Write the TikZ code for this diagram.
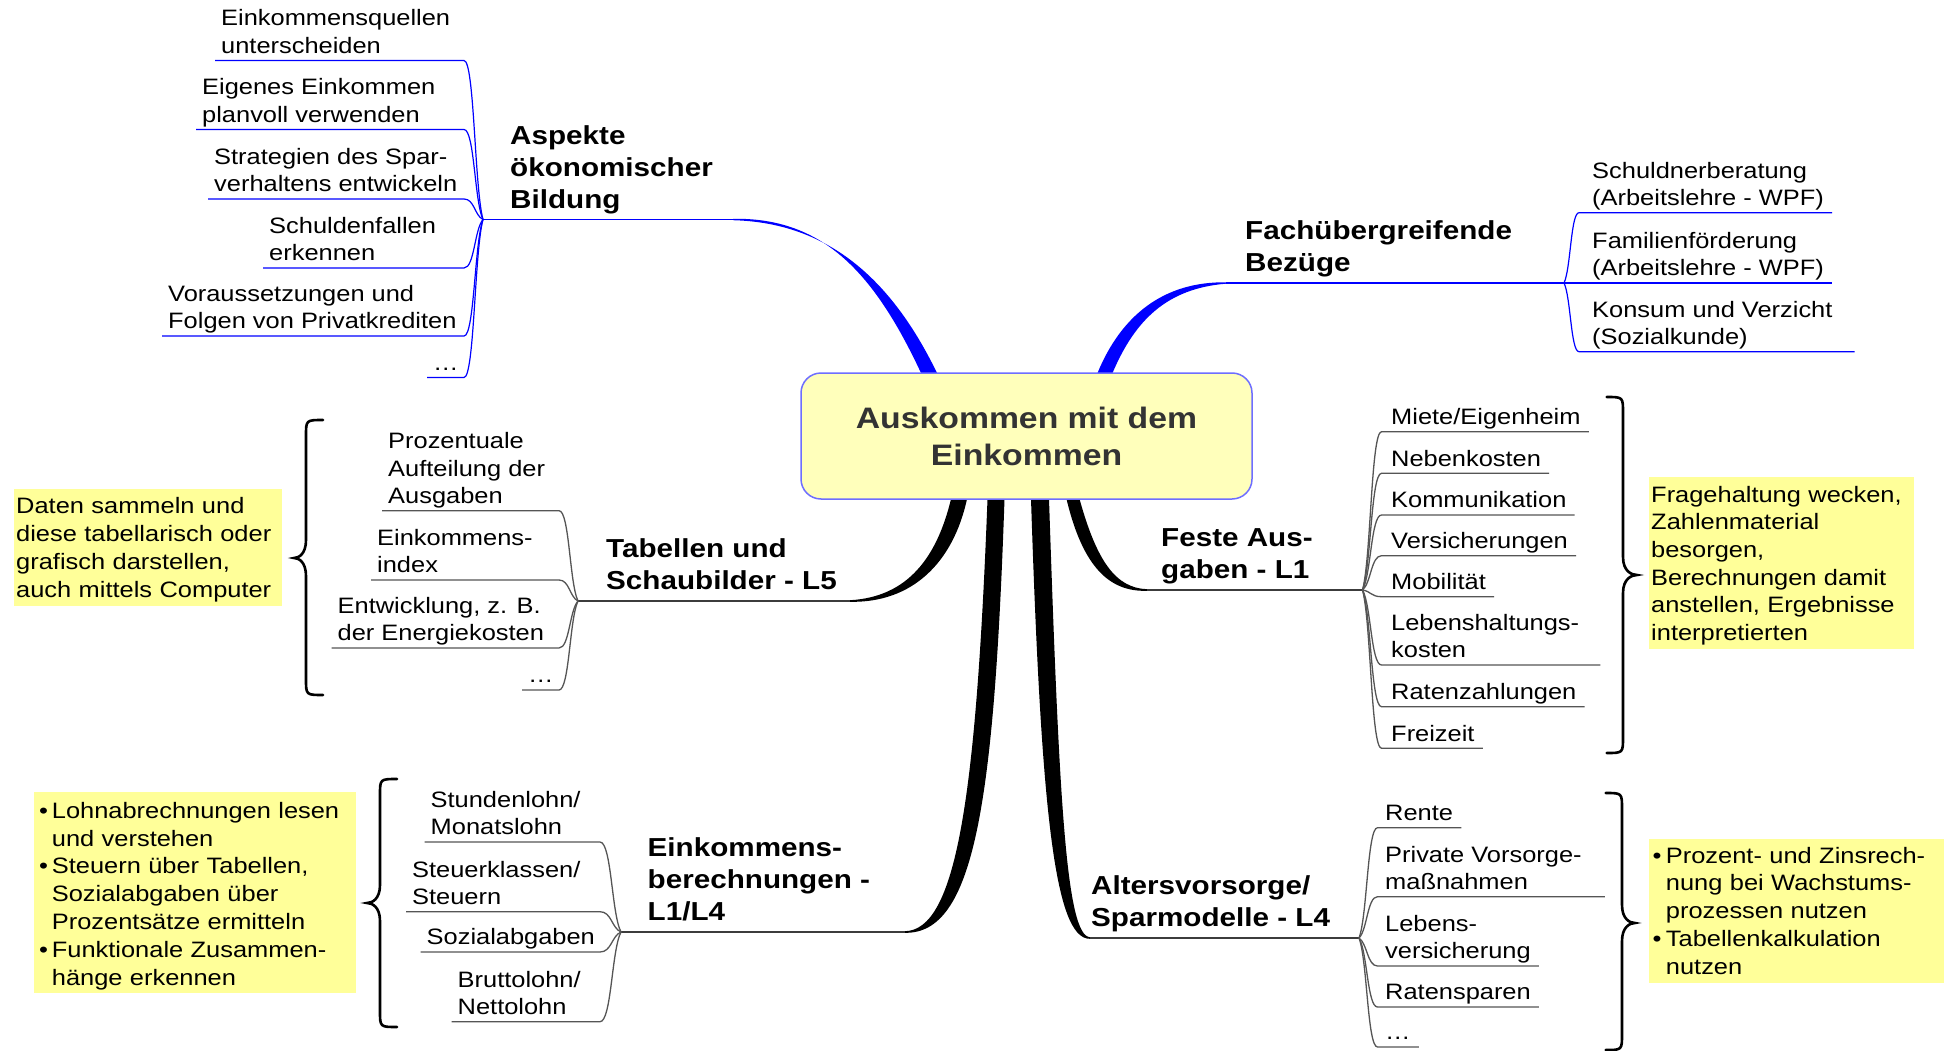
\documentclass[tikz,border=0pt]{standalone}
\usepackage{fontspec}
\setmainfont{Liberation Sans}[FakeStretch=1.14]
\usetikzlibrary{calc}
\definecolor{brblue}{RGB}{0,0,255}
\definecolor{leafgrey}{RGB}{85,85,85}
\definecolor{topicgrey}{RGB}{60,60,60}
\definecolor{noteyellow}{RGB}{255,255,153}
\definecolor{centerfill}{RGB}{255,255,187}
\definecolor{centerdraw}{RGB}{110,110,255}
\definecolor{centertext}{RGB}{51,51,51}
\newcommand\leafst{\rule[-7pt]{0pt}{1pt}}
\newcommand\topicst{\rule[-11pt]{0pt}{1pt}}
\newcommand\lconn[4]{%
  \draw[#1] let \p1=(#2), \p2=(#3.south west) in
    ({\x2-6pt},\y2) -- ({\x1-#4pt},\y2)
    .. controls ({\x1-0.45*#4pt},\y2) and ({\x1-0.45*#4pt},{\y1+0.2*(\y2-\y1)}) .. (\p1);}
\newcommand\rconn[5]{%
  \draw[#1] let \p1=(#2), \p2=(#3.south west), \p3=(#3.south east) in
    (\p1) .. controls ({\x1+0.45*#4pt},{\y1+0.2*(\y2-\y1)}) and ({\x1+0.45*#4pt},\y2) .. ({\x1+#4pt},\y2) -- ({\x3+#5pt},\y2);}
\newcommand\bracedraw[6]{%
  \draw[bracestyle] (#1,#4) .. controls (#2,#4) .. (#2,{#4+16}) -- (#2,{#5-18})
    .. controls (#2,{#5-4}) and ({#3+0.4*(#2-#3)},#5) .. (#3,#5)
    .. controls ({#3+0.4*(#2-#3)},#5) and (#2,{#5+4}) .. (#2,{#5+18})
    -- (#2,{#6-16}) .. controls (#2,#6) .. (#1,#6);}
\newcommand\nbul[1]{\makebox[#1][l]{•}}
\begin{document}
\begin{tikzpicture}[x=1pt,y=-1pt,
  leaf/.style={inner sep=0pt, anchor=south west, align=left, font=\fontsize{22.3}{27.5}\selectfont},
  topic/.style={inner sep=0pt, anchor=south west, align=left, font=\bfseries\fontsize{26}{32}\selectfont},
  note/.style={inner ysep=0pt, anchor=north west, fill=noteyellow, align=left},
  blueleaf/.style={draw=brblue, line width=1.2pt},
  greyleaf/.style={draw=leafgrey, line width=1.3pt},
  bluetopic/.style={draw=brblue, line width=1.6pt},
  greytopic/.style={draw=topicgrey, line width=1.8pt},
  bracestyle/.style={draw=black, line width=2.6pt, line cap=round}
]
\useasboundingbox (0,0) rectangle (1948,1051);
\fill[white] (0,0) rectangle (1948,1051);

% junctions and branch ends
\coordinate (JA) at (483,219.5);
\coordinate (JF) at (1564,283);
\coordinate (JT) at (578,601);
\coordinate (JFA) at (1362.5,590);
\coordinate (JE) at (621,932);
\coordinate (JAV) at (1359,938);
\coordinate (eA) at (733,219.5);
\coordinate (eF) at (1226,283);
\coordinate (eT) at (850,601);
\coordinate (eFA) at (1147,590);
\coordinate (eE) at (905,932);
\coordinate (eAV) at (1090,938);

% main tapered branches
\fill[brblue] (921,385) -- (921,373) .. controls (872,268) and (820,217.5) .. (733,218.8) -- (733,220.2) .. controls (822,222.5) and (888,272) .. (937,373) -- (937,385) -- cycle;
\fill[brblue] (1097.5,385) -- (1097.5,373) .. controls (1121,316) and (1163,281.5) .. (1226,282.3) -- (1226,283.7) .. controls (1167,288.5) and (1135,320) .. (1112.5,373) -- (1112.5,385) -- cycle;
\fill[black] (967,487) -- (967,499) .. controls (953,563) and (912,603) .. (850,601.8) -- (850,600.2) .. controls (908,597) and (937,557) .. (951,499) -- (951,487) -- cycle;
\fill[black] (1004.5,487) -- (1004.5,499) .. controls (994,805) and (974,934) .. (905,932.8) -- (905,931.2) .. controls (956,930) and (976,800) .. (987.5,499) -- (987.5,487) -- cycle;
\fill[black] (1031,487) -- (1031,499) .. controls (1041,805) and (1054,939.5) .. (1090,938.8) -- (1090,937.2) .. controls (1066,936) and (1059,797) .. (1049,499) -- (1049,487) -- cycle;
\fill[black] (1066.5,487) -- (1066.5,499) .. controls (1083,568) and (1110,592) .. (1147,590.8) -- (1147,589.2) .. controls (1116,588) and (1097,562) .. (1079.5,499) -- (1079.5,487) -- cycle;

% central node
\node[draw=centerdraw, line width=1.5pt, fill=centerfill, rounded corners=20pt,
      minimum width=451pt, minimum height=126pt, inner sep=0pt, align=center,
      text=centertext, font=\bfseries\fontsize{29.6}{37}\selectfont] (C) at (1026.5,436)
      {Auskommen mit dem\\Einkommen};

% topics
\node[topic] (tA) at (510,219.5) {Aspekte\\ökonomischer\\Bildung\topicst};
\node[topic] (tF) at (1245,283) {Fachübergreifende\\Bezüge\topicst};
\node[topic] (tT) at (606,601) {Tabellen und\\Schaubilder - L5\topicst};
\node[topic] (tFA) at (1161,590) {Feste Aus-\\gaben - L1\topicst};
\node[topic] (tE) at (647.5,932) {Einkommens-\\berechnungen -\\L1/L4\topicst};
\node[topic] (tAV) at (1091,938) {Altersvorsorge/\\Sparmodelle - L4\topicst};

\draw[bluetopic] (JA) -- (eA);
\draw[bluetopic] (JF) -- (eF);
\draw[greytopic] (JT) -- (eT);
\draw[greytopic] (JFA) -- (eFA);
\draw[greytopic] (JE) -- (eE);
\draw[greytopic] (JAV) -- (eAV);

% leaves: Aspekte
\node[leaf] (a1) at (221,60.5) {Einkommensquellen\\unterscheiden\leafst};
\node[leaf] (a2) at (202,129.5) {Eigenes Einkommen\\planvoll verwenden\leafst};
\node[leaf] (a3) at (214,199) {Strategien des Spar-\\verhaltens entwickeln\leafst};
\node[leaf] (a4) at (269,268) {Schuldenfallen\\erkennen\leafst};
\node[leaf] (a5) at (168,336) {Voraussetzungen und\\Folgen von Privatkrediten\leafst};
\node[leaf] (a6) at (433,377.5) {…\leafst};
\foreach \lv in {a1,a2,a3,a4,a5,a6} {\lconn{blueleaf}{JA}{\lv}{19}}

% leaves: Fachuebergreifend
\node[leaf] (f1) at (1592,212.7) {Schuldnerberatung\\(Arbeitslehre - WPF)\leafst};
\node[leaf] (f2) at (1592,283) {Familienförderung\\(Arbeitslehre - WPF)\leafst};
\node[leaf] (f3) at (1592,351.7) {Konsum und Verzicht\\(Sozialkunde)\leafst};
\rconn{blueleaf}{JF}{f1}{15}{8}
\rconn{blueleaf}{JF}{f2}{15}{8}
\rconn{blueleaf}{JF}{f3}{15}{22}

% leaves: Tabellen
\node[leaf] (t1) at (388,510.7) {Prozentuale\\Aufteilung der\\Ausgaben\leafst};
\node[leaf] (t2) at (377,580) {Einkommens-\\index\leafst};
\node[leaf] (t3) at (337.5,648) {Entwicklung, z. B.\\der Energiekosten\leafst};
\node[leaf] (t4) at (528,690) {…\leafst};
\foreach \lv in {t1,t2,t3,t4} {\lconn{greyleaf}{JT}{\lv}{19}}

% leaves: Feste Ausgaben
\node[leaf] (fa1) at (1391,431.7) {Miete/Eigenheim\leafst};
\node[leaf] (fa2) at (1391,473.3) {Nebenkosten\leafst};
\node[leaf] (fa3) at (1391,515) {Kommunikation\leafst};
\node[leaf] (fa4) at (1391,555.7) {Versicherungen\leafst};
\node[leaf] (fa5) at (1391,596.7) {Mobilität\leafst};
\node[leaf] (fa6) at (1391,665) {Lebenshaltungs-\\kosten\leafst};
\node[leaf] (fa7) at (1391,706.7) {Ratenzahlungen\leafst};
\node[leaf] (fa8) at (1391,748.3) {Freizeit\leafst};
\foreach \lv in {fa1,fa2,fa3,fa4,fa5,fa7,fa8} {\rconn{greyleaf}{JFA}{\lv}{19}{8}}
\rconn{greyleaf}{JFA}{fa6}{19}{21}

% leaves: Einkommensberechnungen
\node[leaf] (e1) at (430.5,842) {Stundenlohn/\\Monatslohn\leafst};
\node[leaf] (e2) at (412,911.7) {Steuerklassen/\\Steuern\leafst};
\node[leaf] (e3) at (426.5,952) {Sozialabgaben\leafst};
\node[leaf] (e4) at (457.5,1021.7) {Bruttolohn/\\Nettolohn\leafst};
\foreach \lv in {e1,e2,e3,e4} {\lconn{greyleaf}{JE}{\lv}{21}}

% leaves: Altersvorsorge
\node[leaf] (av1) at (1385,827.7) {Rente\leafst};
\node[leaf] (av2) at (1385,896.7) {Private Vorsorge-\\maßnahmen\leafst};
\node[leaf] (av3) at (1385,966) {Lebens-\\versicherung\leafst};
\node[leaf] (av4) at (1385,1007) {Ratensparen\leafst};
\node[leaf] (av5) at (1385,1047) {…\leafst};
\foreach \lv in {av1,av3,av4,av5} {\rconn{greyleaf}{JAV}{\lv}{18.5}{8}}
\rconn{greyleaf}{JAV}{av2}{18.5}{23}

% braces
\bracedraw{323}{306}{294}{420}{558}{695}
\bracedraw{1606.6}{1623}{1637}{397}{575}{753}
\bracedraw{397}{380}{367}{779}{903}{1027}
\bracedraw{1605.6}{1622}{1635}{793}{923}{1050}

% notes
\node[note, inner xsep=2pt, text width=264pt, font=\fontsize{22.3}{28}\selectfont] (n1) at (14,489)
  {\rule{0pt}{24pt}Daten sammeln und\\diese tabellarisch oder\\grafisch darstellen,\\auch mittels Computer\rule[-9pt]{0pt}{0pt}};
\node[note, inner xsep=2pt, text width=261pt, font=\fontsize{22.3}{27.6}\selectfont] (n2) at (1649,477)
  {\rule{0pt}{25pt}Fragehaltung wecken,\\Zahlenmaterial\\besorgen,\\Berechnungen damit\\anstellen, Ergebnisse\\interpretierten\rule[-9pt]{0pt}{0pt}};
\node[note, inner xsep=5pt, text width=312pt, font=\fontsize{22.3}{27.8}\selectfont] (n3) at (34,792)
  {\rule{0pt}{26pt}\nbul{12.7pt}Lohnabrechnungen lesen\\\hspace*{12.7pt}und verstehen\\\nbul{12.7pt}Steuern über Tabellen,\\\hspace*{12.7pt}Sozialabgaben über\\\hspace*{12.7pt}Prozentsätze ermitteln\\\nbul{12.7pt}Funktionale Zusammen-\\\hspace*{12.7pt}hänge erkennen\rule[-8pt]{0pt}{0pt}};
\node[note, inner xsep=4pt, text width=287pt, font=\fontsize{22.3}{27.75}\selectfont] (n4) at (1648.5,839)
  {\rule{0pt}{24pt}\nbul{13.2pt}Prozent- und Zinsrech-\\\hspace*{13.2pt}nung bei Wachstums-\\\hspace*{13.2pt}prozessen nutzen\\\nbul{13.2pt}Tabellenkalkulation\\\hspace*{13.2pt}nutzen\rule[-9pt]{0pt}{0pt}};
\end{tikzpicture}
\end{document}
